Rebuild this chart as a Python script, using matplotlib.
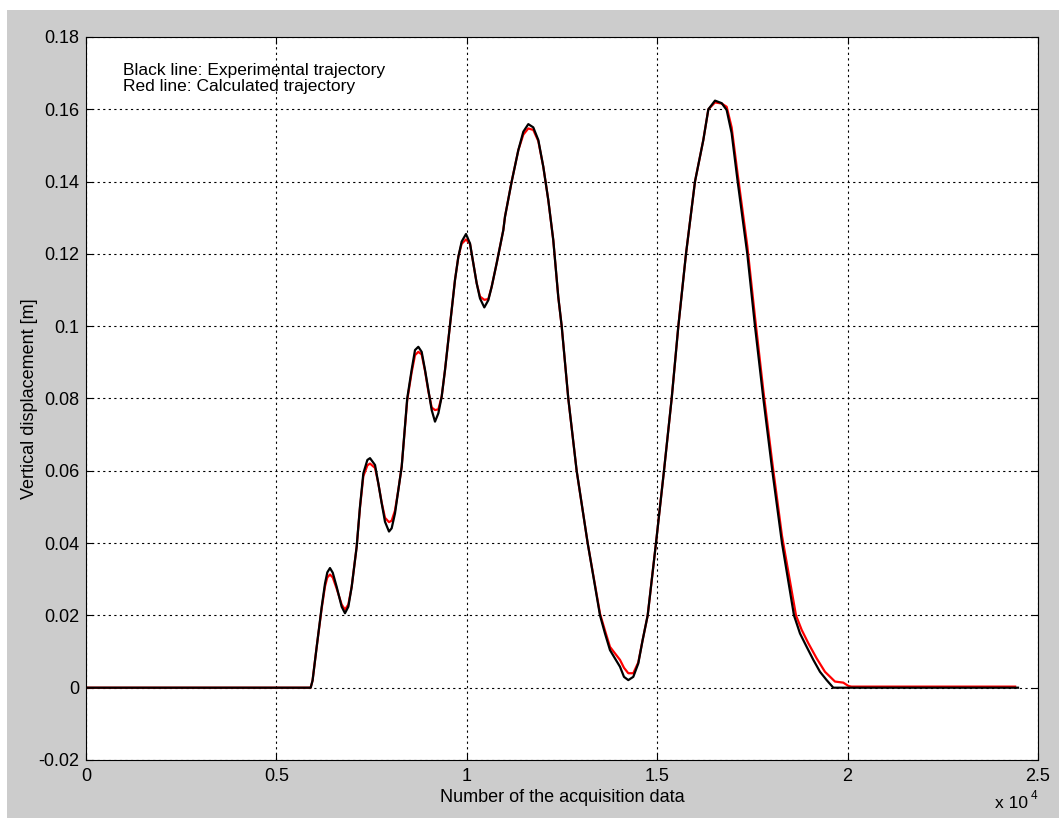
import matplotlib
matplotlib.use("Agg")
import matplotlib.pyplot as plt
from matplotlib.patches import Rectangle

plt.rcParams['font.family'] = ['Liberation Sans', 'DejaVu Sans']

# experimental trajectory (black)
exp_x = [0, 5900, 5950, 6058, 6190, 6276, 6337, 6407, 6480, 6583,
         6714, 6801, 6889, 6977, 7108, 7195, 7283, 7389, 7458, 7590,
         7677, 7765, 7852, 7957, 8027, 8114, 8202, 8290, 8360, 8435,
         8551, 8640, 8727, 8815, 8903, 8990, 9078, 9165, 9253, 9340,
         9428, 9515, 9603, 9690, 9778, 9865, 9979, 10084, 10171, 10259,
         10346, 10460, 10565, 10653, 10784, 10959, 11003, 11178, 11353, 11484,
         11615, 11746, 11878, 12009, 12140, 12271, 12403, 12492, 12665, 12885,
         13174, 13498, 13629, 13760, 13891, 14023, 14128, 14241, 14372, 14503,
         14618, 14750, 14968, 15178, 15380, 15555, 15756, 15992, 16211, 16343,
         16518, 16693, 16824, 16955, 17113, 17366, 17568, 17787, 18023, 18277,
         18592, 18750, 18925, 19100, 19275, 19450, 19625, 24475]
exp_y = [0, 0, 0.0020, 0.0113, 0.0224, 0.0288, 0.0319, 0.0331, 0.0318, 0.0279,
         0.0224, 0.0206, 0.0224, 0.0279, 0.0390, 0.0501, 0.0593, 0.0630, 0.0635, 0.0616,
         0.0565, 0.0510, 0.0459, 0.0432, 0.0441, 0.0482, 0.0547, 0.0611, 0.0702, 0.0800,
         0.0879, 0.0934, 0.0943, 0.0929, 0.0879, 0.0824, 0.0768, 0.0736, 0.0759, 0.0805,
         0.0879, 0.0962, 0.1045, 0.1128, 0.1192, 0.1234, 0.1255, 0.1229, 0.1174, 0.1119,
         0.1077, 0.1052, 0.1072, 0.1109, 0.1174, 0.1266, 0.1303, 0.1400, 0.1487, 0.1538,
         0.1559, 0.1550, 0.1515, 0.1441, 0.1349, 0.1238, 0.1080, 0.1000, 0.0800, 0.0600,
         0.0400, 0.0200, 0.0150, 0.0104, 0.0081, 0.0058, 0.0030, 0.0021, 0.0030, 0.0067,
         0.0132, 0.0200, 0.0400, 0.0600, 0.0800, 0.1000, 0.1200, 0.1400, 0.1515, 0.1600,
         0.1624, 0.1617, 0.1598, 0.1534, 0.1400, 0.1200, 0.1000, 0.0800, 0.0600, 0.0400,
         0.0200, 0.0150, 0.0113, 0.0077, 0.0044, 0.0021, 0, 0]

# calculated trajectory (red)
calc_x = [0, 5900, 5950, 6058, 6190, 6276, 6337, 6407, 6480, 6583,
          6714, 6801, 6889, 6977, 7108, 7195, 7283, 7389, 7458, 7590,
          7677, 7765, 7852, 7957, 8027, 8114, 8202, 8290, 8360, 8435,
          8551, 8640, 8727, 8815, 8903, 8990, 9078, 9165, 9253, 9340,
          9428, 9515, 9603, 9690, 9778, 9865, 9979, 10084, 10171, 10259,
          10346, 10460, 10565, 10653, 10784, 10959, 11003, 11178, 11353, 11484,
          11615, 11746, 11878, 12009, 12140, 12271, 12403, 12492, 12665, 12885,
          13174, 13498, 13629, 13760, 13891, 14023, 14128, 14241, 14372, 14503,
          14618, 14750, 14968, 15178, 15380, 15555, 15756, 15992, 16211, 16343,
          16518, 16693, 16824, 16955, 17113, 17366, 17568, 17787, 18023, 18277,
          18645, 18794, 18969, 19188, 19406, 19668, 19887, 20018, 20100, 24400]
calc_y = [0, 0, 0.0020, 0.0113, 0.0220, 0.0280, 0.0305, 0.0313, 0.0305, 0.0274,
          0.0230, 0.0216, 0.0230, 0.0279, 0.0390, 0.0498, 0.0585, 0.0615, 0.0620, 0.0608,
          0.0565, 0.0512, 0.0470, 0.0458, 0.0462, 0.0490, 0.0547, 0.0611, 0.0700, 0.0795,
          0.0872, 0.0920, 0.0929, 0.0922, 0.0876, 0.0820, 0.0775, 0.0768, 0.0770, 0.0805,
          0.0879, 0.0962, 0.1045, 0.1128, 0.1192, 0.1228, 0.1240, 0.1228, 0.1174, 0.1119,
          0.1082, 0.1073, 0.1075, 0.1109, 0.1174, 0.1266, 0.1303, 0.1400, 0.1487, 0.1530,
          0.1547, 0.1543, 0.1512, 0.1441, 0.1349, 0.1238, 0.1080, 0.1000, 0.0800, 0.0600,
          0.0400, 0.0205, 0.0158, 0.0113, 0.0095, 0.0077, 0.0055, 0.0040, 0.0040, 0.0070,
          0.0132, 0.0200, 0.0400, 0.0600, 0.0800, 0.1000, 0.1200, 0.1400, 0.1515, 0.1600,
          0.1619, 0.1616, 0.1607, 0.1550, 0.1420, 0.1222, 0.1025, 0.0822, 0.0622, 0.0420,
          0.0200, 0.0160, 0.0123, 0.0081, 0.0044, 0.0017, 0.0014, 0.0005, 0.0003, 0.0003]

xticks = [0, 5000, 10000, 15000, 20000, 25000]
xticklabels = ['0', '0.5', '1', '1.5', '2', '2.5']
yticks = [-0.02, 0, 0.02, 0.04, 0.06, 0.08, 0.1, 0.12, 0.14, 0.16, 0.18]
yticklabels = ['-0.02', '0', '0.02', '0.04', '0.06', '0.08', '0.1', '0.12', '0.14', '0.16', '0.18']

fig = plt.figure(figsize=(10.59, 8.18), dpi=100, facecolor='white')
# matlab-style grey figure panel
fig.patches.append(Rectangle((7/1059, 0), 1, 1 - 10/818, transform=fig.transFigure,
                             facecolor='#cccccc', edgecolor='none', zorder=-10))

ax = fig.add_axes([86/1059, 1 - 760/818, 952/1059, 723/818])
ax.set_facecolor('white')

ax.plot(calc_x, calc_y, color='#ff0000', lw=1.6)
ax.plot(exp_x, exp_y, color='black', lw=1.6)

ax.set_xlim(0, 25000)
ax.set_ylim(-0.02, 0.18)
ax.set_xticks(xticks)
ax.set_xticklabels(xticklabels)
ax.set_yticks(yticks)
ax.set_yticklabels(yticklabels)
ax.grid(True, color='black', linestyle=(0, (2, 3)), linewidth=0.8)
ax.tick_params(direction='in', top=True, right=True, length=5, width=0.8,
               labelsize=13, colors='black')
ax.tick_params(axis='x', pad=6)
ax.tick_params(axis='y', pad=5)
for s in ax.spines.values():
    s.set_linewidth(0.8)

ax.set_xlabel('Number of the acquisition data', fontsize=13)
ax.xaxis.set_label_coords(0.5, -0.052)
ax.xaxis.label.set_va('center')
ax.set_ylabel('Vertical displacement [m]', fontsize=13)
ax.yaxis.set_label_coords(-0.059, 0.5)
ax.yaxis.label.set_va('center')

ax.text(0.039, 0.947, 'Black line: Experimental trajectory', transform=ax.transAxes,
        fontsize=12.5, va='baseline')
ax.text(0.039, 0.926, 'Red line: Calculated trajectory', transform=ax.transAxes,
        fontsize=12.5, va='baseline')

fig.text(995/1059, 1 - 803/818, 'x 10', fontsize=12.5, va='center', ha='left')
fig.text(1031/1059, 1 - 796/818, '4', fontsize=8.5, va='center', ha='left')

fig.savefig('out.png', dpi=100, facecolor=fig.get_facecolor())
